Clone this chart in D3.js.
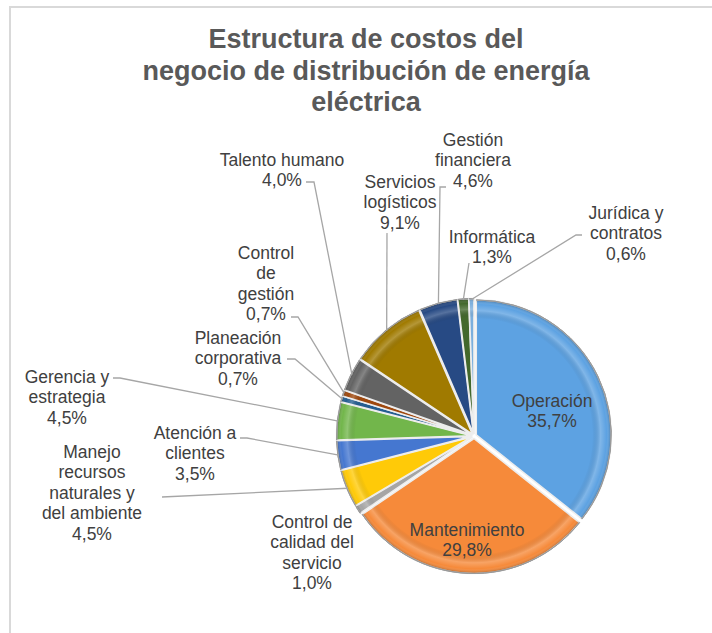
<!DOCTYPE html>
<html><head><meta charset="utf-8">
<script src="https://cdn.jsdelivr.net/npm/d3@7"></script>
<style>body{margin:0;background:#fff}svg{display:block}</style>
</head><body>
<svg id="chart" width="712" height="633"></svg>
<script>
// ---- data ----
const titleLines = ["Estructura de costos del", "negocio de distribución de energía", "eléctrica"];
const categories = ["Operación","Mantenimiento","Control de calidad del servicio","Manejo recursos naturales y del ambiente","Atención a clientes","Gerencia y estrategia","Planeación corporativa","Control de gestión","Talento humano","Servicios logísticos","Gestión financiera","Informática","Jurídica y contratos"];
const values = [35.7, 29.8, 1.0, 4.5, 3.5, 4.5, 0.7, 0.7, 4.0, 9.1, 4.6, 1.3, 0.6];
const labelLines = [["Operación"],["Mantenimiento"],["Control de","calidad del","servicio"],["Manejo","recursos","naturales y","del ambiente"],["Atención a","clientes"],["Gerencia y","estrategia"],["Planeación","corporativa"],["Control","de","gestión"],["Talento humano"],["Servicios","logísticos"],["Gestión","financiera"],["Informática"],["Jurídica y","contratos"]];
const colors = ["#5DA2E2","#F68A3A","#A5A5A5","#FFCA08","#4577D0","#72B64B","#255E91","#9E480E","#636363","#A07A00","#274A84","#43682B","#7CAFDD"];

// ---- layout (positions only) ----
const cx = 474, cy = 436, R = 135, explode = 2.5;
const labelPos = [
  {x:552, y:401, leader:null},
  {x:467, y:530, leader:null},
  {x:312, y:522, leader:null},
  {x:92,  y:452, leader:[[162,497]]},
  {x:195, y:433, leader:[[240,438],[247,438]]},
  {x:67,  y:377, leader:[[113,378],[120,378]]},
  {x:238, y:338, leader:[[287,359],[295,359]]},
  {x:266, y:253, leader:[[291,317],[298,317]]},
  {x:282, y:160, leader:[[306,182],[314,182]]},
  {x:400, y:182, leader:[[387,233]]},
  {x:473, y:140, leader:[[446,187],[440,187]]},
  {x:492, y:237, leader:[[469,263]]},
  {x:626, y:213, leader:[[582,235],[576,235]]}
];
const lineH = 20.4;

const svg = d3.select("#chart");
const defs = svg.append("defs");

// frame
svg.append("line").attr("x1",10).attr("y1",7).attr("x2",712).attr("y2",7).attr("stroke","#D9D9D9").attr("stroke-width",2);
svg.append("line").attr("x1",10).attr("y1",6).attr("x2",10).attr("y2",633).attr("stroke","#D9D9D9").attr("stroke-width",2);

// title
const title = svg.append("text").attr("text-anchor","middle")
  .attr("font-family","Liberation Sans, Arial, sans-serif").attr("font-weight","bold")
  .attr("font-size",27).attr("fill","#595959");
titleLines.forEach((t,i)=>title.append("tspan").attr("x",366).attr("y",48+i*31.5).text(t));

// bevel overlay gradient
const bev = defs.append("radialGradient").attr("id","bev").attr("gradientUnits","userSpaceOnUse")
  .attr("cx",0).attr("cy",0).attr("r",R);
[[0,"#000",0],[0.86,"#000",0],[0.92,"#fff",0.22],[0.965,"#fff",0.0],[1,"#000",0.28]]
  .forEach(([o,c,a])=>bev.append("stop").attr("offset",o).attr("stop-color",c).attr("stop-opacity",a));

const pie = d3.pie().sort(null).value(d=>d)(values);
const arc = d3.arc().innerRadius(0).outerRadius(R);

const slices = svg.append("g").selectAll("g").data(pie).join("g")
  .attr("transform",d=>{
    const m=(d.startAngle+d.endAngle)/2;
    return `translate(${cx+explode*Math.sin(m)},${cy-explode*Math.cos(m)})`;
  });
slices.append("path").attr("d",arc).attr("fill",(d,i)=>colors[i])
  .attr("stroke","#EDEDED").attr("stroke-width",1.6).attr("stroke-linejoin","round");
slices.append("path").attr("d",arc).attr("fill","url(#bev)");
slices.append("path").attr("d",d3.arc().innerRadius(R).outerRadius(R))
  .attr("fill","none").attr("stroke","#9a9a9a").attr("stroke-width",1);

// leader lines
const fmt = v => d3.format(".1f")(v).replace(".",",") + "%";
pie.forEach((d,i)=>{
  const L = labelPos[i].leader; if(!L) return;
  const m=(d.startAngle+d.endAngle)/2;
  const end=[cx+(R+explode-1)*Math.sin(m), cy-(R+explode-1)*Math.cos(m)];
  svg.append("path").attr("d",d3.line()([...L,end]))
    .attr("fill","none").attr("stroke","#A6A6A6").attr("stroke-width",1.3);
});

// labels
pie.forEach((d,i)=>{
  const p=labelPos[i];
  const lines=[...labelLines[i], fmt(values[i])];
  const t=svg.append("text").attr("text-anchor","middle")
    .attr("font-family","Liberation Sans, Arial, sans-serif").attr("font-size",17.5).attr("fill","#404040");
  lines.forEach((s,k)=>t.append("tspan").attr("x",p.x).attr("y",p.y+6+k*lineH).text(s));
});
</script>
</body></html>
